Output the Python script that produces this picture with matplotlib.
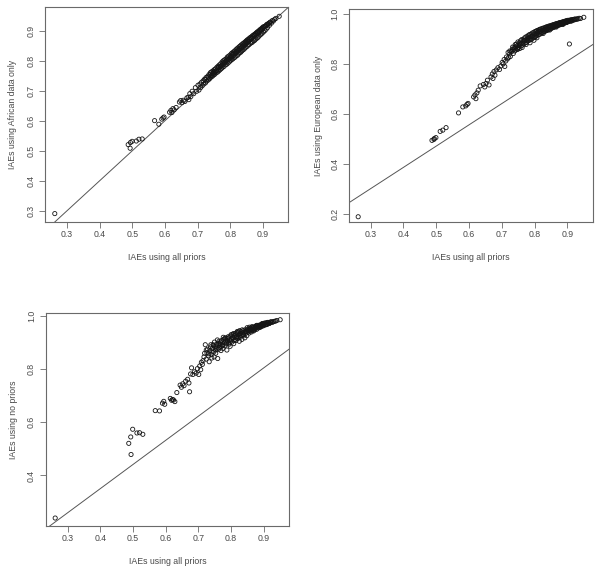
import matplotlib
matplotlib.use("Agg")
import matplotlib.pyplot as plt

# IAEs using all priors (x, shared by all panels)
iae_all = [0.262, 0.487, 0.493, 0.494, 0.499, 0.512, 0.520, 0.530, 0.568, 0.581,
           0.590, 0.594, 0.597, 0.614, 0.618, 0.621, 0.624, 0.628, 0.634, 0.644,
           0.648, 0.652, 0.656, 0.661, 0.667, 0.671, 0.673, 0.676, 0.679, 0.683,
           0.688, 0.693, 0.697, 0.701, 0.704, 0.707, 0.709, 0.712, 0.714, 0.717,
           0.719, 0.721, 0.724, 0.726, 0.728, 0.731, 0.733, 0.735, 0.737, 0.739,
           0.741, 0.743, 0.745, 0.747, 0.749, 0.751, 0.753, 0.755, 0.757, 0.759,
           0.761, 0.763, 0.765, 0.767, 0.769, 0.771, 0.773, 0.775, 0.777, 0.779,
           0.781, 0.783, 0.785, 0.787, 0.789, 0.791, 0.793, 0.795, 0.797, 0.799,
           0.801, 0.803, 0.805, 0.806, 0.808, 0.810, 0.812, 0.813, 0.815, 0.817,
           0.818, 0.820, 0.822, 0.823, 0.825, 0.827, 0.828, 0.830, 0.832, 0.833,
           0.835, 0.837, 0.838, 0.840, 0.842, 0.843, 0.845, 0.847, 0.848, 0.850,
           0.852, 0.853, 0.855, 0.857, 0.858, 0.860, 0.862, 0.863, 0.865, 0.867,
           0.868, 0.870, 0.872, 0.873, 0.875, 0.877, 0.878, 0.880, 0.882, 0.883,
           0.885, 0.887, 0.888, 0.890, 0.892, 0.893, 0.895, 0.897, 0.898, 0.900,
           0.902, 0.904, 0.906, 0.908, 0.910, 0.912, 0.914, 0.917, 0.920, 0.923,
           0.926, 0.929, 0.932, 0.936, 0.940, 0.950,
           0.746, 0.752, 0.758, 0.764, 0.770, 0.776, 0.782, 0.788, 0.794, 0.800,
           0.804, 0.809, 0.814, 0.819, 0.824, 0.829, 0.834, 0.839, 0.844, 0.849,
           0.854, 0.859, 0.864, 0.869, 0.874, 0.879, 0.884, 0.889, 0.894, 0.899,
           0.903, 0.907, 0.911, 0.916, 0.921, 0.724, 0.732, 0.738, 0.742, 0.748,
           0.754, 0.762, 0.768, 0.774, 0.780, 0.786, 0.792, 0.798, 0.807, 0.816,
           0.826, 0.836, 0.846, 0.856, 0.866, 0.876, 0.886, 0.896]

# IAEs using African data only
iae_african = [0.290, 0.520, 0.508, 0.527, 0.531, 0.532, 0.538, 0.539, 0.600, 0.588,
               0.605, 0.609, 0.612, 0.628, 0.634, 0.627, 0.640, 0.636, 0.644, 0.662,
               0.667, 0.660, 0.668, 0.664, 0.676, 0.678, 0.670, 0.690, 0.680, 0.698,
               0.690, 0.710, 0.698, 0.718, 0.702, 0.722, 0.710, 0.728, 0.716, 0.733,
               0.722, 0.738, 0.726, 0.744, 0.732, 0.748, 0.736, 0.754, 0.740, 0.760,
               0.745, 0.763, 0.748, 0.766, 0.752, 0.770, 0.755, 0.773, 0.760, 0.778,
               0.762, 0.782, 0.766, 0.786, 0.770, 0.790, 0.774, 0.796, 0.778, 0.800,
               0.781, 0.803, 0.786, 0.806, 0.788, 0.812, 0.792, 0.815, 0.796, 0.818,
               0.800, 0.823, 0.804, 0.826, 0.806, 0.829, 0.810, 0.832, 0.812, 0.836,
               0.816, 0.839, 0.818, 0.842, 0.822, 0.846, 0.826, 0.848, 0.828, 0.852,
               0.832, 0.855, 0.835, 0.858, 0.838, 0.860, 0.842, 0.864, 0.845, 0.867,
               0.848, 0.870, 0.852, 0.873, 0.854, 0.876, 0.858, 0.878, 0.860, 0.882,
               0.862, 0.884, 0.866, 0.887, 0.868, 0.890, 0.872, 0.893, 0.875, 0.896,
               0.878, 0.899, 0.882, 0.902, 0.886, 0.905, 0.889, 0.908, 0.892, 0.912,
               0.896, 0.914, 0.900, 0.916, 0.905, 0.921, 0.910, 0.924, 0.918, 0.929,
               0.925, 0.934, 0.932, 0.938, 0.941, 0.948,
               0.757, 0.764, 0.768, 0.778, 0.780, 0.789, 0.793, 0.800, 0.804, 0.812,
               0.814, 0.822, 0.824, 0.831, 0.834, 0.841, 0.844, 0.850, 0.854, 0.860,
               0.864, 0.870, 0.873, 0.879, 0.883, 0.889, 0.892, 0.898, 0.902, 0.908,
               0.911, 0.914, 0.918, 0.922, 0.927, 0.738, 0.744, 0.752, 0.750, 0.762,
               0.762, 0.776, 0.781, 0.784, 0.794, 0.798, 0.806, 0.808, 0.820, 0.826,
               0.838, 0.846, 0.857, 0.866, 0.876, 0.885, 0.894, 0.904]

# IAEs using European data only
iae_european = [0.188, 0.494, 0.498, 0.501, 0.505, 0.530, 0.535, 0.545, 0.604, 0.628,
                0.632, 0.638, 0.642, 0.668, 0.676, 0.661, 0.684, 0.695, 0.712, 0.718,
                0.708, 0.722, 0.735, 0.716, 0.748, 0.760, 0.742, 0.770, 0.755, 0.776,
                0.785, 0.778, 0.792, 0.806, 0.800, 0.818, 0.790, 0.812, 0.828, 0.820,
                0.846, 0.826, 0.852, 0.830, 0.850, 0.851, 0.868, 0.842, 0.866, 0.852,
                0.878, 0.856, 0.880, 0.862, 0.888, 0.866, 0.884, 0.862, 0.893, 0.872,
                0.898, 0.876, 0.896, 0.880, 0.904, 0.884, 0.908, 0.886, 0.910, 0.892,
                0.915, 0.894, 0.918, 0.898, 0.920, 0.900, 0.924, 0.904, 0.926, 0.906,
                0.930, 0.910, 0.932, 0.914, 0.934, 0.916, 0.936, 0.918, 0.938, 0.920,
                0.940, 0.924, 0.941, 0.926, 0.943, 0.928, 0.944, 0.930, 0.946, 0.932,
                0.948, 0.934, 0.949, 0.936, 0.951, 0.938, 0.952, 0.940, 0.953, 0.942,
                0.955, 0.944, 0.956, 0.946, 0.958, 0.948, 0.959, 0.950, 0.961, 0.952,
                0.962, 0.954, 0.963, 0.955, 0.965, 0.957, 0.966, 0.959, 0.967, 0.960,
                0.968, 0.962, 0.970, 0.963, 0.971, 0.965, 0.972, 0.966, 0.974, 0.968,
                0.975, 0.970, 0.880, 0.976, 0.971, 0.977, 0.973, 0.978, 0.976, 0.980,
                0.978, 0.981, 0.980, 0.983, 0.982, 0.987,
                0.872, 0.874, 0.882, 0.888, 0.895, 0.898, 0.905, 0.910, 0.913, 0.920,
                0.922, 0.926, 0.929, 0.932, 0.935, 0.938, 0.941, 0.943, 0.946, 0.948,
                0.950, 0.953, 0.955, 0.958, 0.960, 0.962, 0.964, 0.966, 0.968, 0.970,
                0.972, 0.974, 0.975, 0.977, 0.979, 0.840, 0.858, 0.860, 0.868, 0.858,
                0.878, 0.866, 0.892, 0.878, 0.902, 0.885, 0.910, 0.895, 0.905, 0.930,
                0.922, 0.938, 0.936, 0.952, 0.948, 0.958, 0.958, 0.966]

# IAEs using no priors
iae_none = [0.240, 0.521, 0.545, 0.479, 0.574, 0.560, 0.561, 0.555, 0.644, 0.643,
            0.672, 0.679, 0.668, 0.690, 0.683, 0.686, 0.684, 0.678, 0.712, 0.740,
            0.732, 0.745, 0.738, 0.755, 0.762, 0.748, 0.715, 0.782, 0.805, 0.780,
            0.790, 0.785, 0.802, 0.780, 0.812, 0.798, 0.826, 0.818, 0.832, 0.846,
            0.860, 0.892, 0.838, 0.862, 0.875, 0.850, 0.828, 0.870, 0.884, 0.855,
            0.842, 0.878, 0.892, 0.865, 0.902, 0.885, 0.860, 0.893, 0.875, 0.840,
            0.898, 0.905, 0.882, 0.895, 0.870, 0.908, 0.889, 0.878, 0.912, 0.900,
            0.888, 0.918, 0.895, 0.872, 0.905, 0.922, 0.898, 0.910, 0.886, 0.925,
            0.912, 0.902, 0.930, 0.918, 0.896, 0.926, 0.912, 0.935, 0.908, 0.922,
            0.938, 0.915, 0.928, 0.940, 0.905, 0.932, 0.920, 0.942, 0.926, 0.912,
            0.936, 0.945, 0.930, 0.940, 0.918, 0.948, 0.935, 0.944, 0.926, 0.950,
            0.940, 0.946, 0.936, 0.952, 0.944, 0.955, 0.940, 0.950, 0.956, 0.946,
            0.958, 0.952, 0.948, 0.960, 0.954, 0.962, 0.950, 0.958, 0.964, 0.955,
            0.962, 0.966, 0.958, 0.964, 0.968, 0.961, 0.966, 0.970, 0.963, 0.968,
            0.972, 0.966, 0.970, 0.974, 0.968, 0.973, 0.976, 0.972, 0.976, 0.978,
            0.976, 0.979, 0.980, 0.981, 0.983, 0.986,
            0.888, 0.872, 0.910, 0.892, 0.885, 0.920, 0.906, 0.915, 0.894, 0.930,
            0.920, 0.908, 0.930, 0.942, 0.922, 0.934, 0.948, 0.928, 0.942, 0.956,
            0.944, 0.950, 0.960, 0.944, 0.957, 0.965, 0.960, 0.958, 0.970, 0.966,
            0.974, 0.968, 0.976, 0.972, 0.978, 0.872, 0.858, 0.892, 0.865, 0.846,
            0.880, 0.875, 0.902, 0.890, 0.915, 0.898, 0.918, 0.905, 0.934, 0.918,
            0.945, 0.930, 0.940, 0.958, 0.950, 0.963, 0.962, 0.972]

x_ticks = [0.3, 0.4, 0.5, 0.6, 0.7, 0.8, 0.9]
x_label = "IAEs using all priors"

panels = [
    dict(y=iae_african, ylabel="IAEs using African data only",
         yticks=[0.3, 0.4, 0.5, 0.6, 0.7, 0.8, 0.9],
         line=(0.0, 1.0), xlim=(0.232, 0.977), ylim=(0.262, 0.979),
         rect_px=(45, 7, 288, 222), ylab_x=-0.133),
    dict(y=iae_european, ylabel="IAEs using European data only",
         yticks=[0.2, 0.4, 0.6, 0.8, 1.0],
         line=(0.045, 0.852), xlim=(0.234, 0.978), ylim=(0.167, 1.019),
         rect_px=(349, 9.3, 593, 222), ylab_x=-0.127),
    dict(y=iae_none, ylabel="IAEs using no priors",
         yticks=[0.4, 0.6, 0.8, 1.0],
         line=(-0.013, 0.909), xlim=(0.233, 0.977), ylim=(0.21, 1.0125),
         rect_px=(45.7, 312.7, 289, 526), ylab_x=-0.134),
]

W, H = 600, 573
fig = plt.figure(figsize=(W / 100, H / 100), dpi=100)
fig.patch.set_facecolor("white")

txt_color = "#4a4a4a"
box_color = "#6a6a6a"
font = "Liberation Sans"
fs = 6.3

for p in panels:
    l, t, r, b = p["rect_px"]
    ax = fig.add_axes([l / W, 1 - b / H, (r - l) / W, (b - t) / H])
    ax.scatter(iae_all, p["y"], s=9, facecolors="none", edgecolors="#151515",
               linewidths=0.6, zorder=3)
    a0, a1 = p["line"]
    ax.axline((0, a0), slope=a1, color="#555555", linewidth=0.7, zorder=2)
    ax.set_xlim(*p["xlim"])
    ax.set_ylim(*p["ylim"])
    ax.set_xticks(x_ticks)
    ax.set_xticklabels([f"{v:.1f}" for v in x_ticks], fontfamily=font,
                       fontsize=fs, color=txt_color)
    ax.set_yticks(p["yticks"])
    ax.set_yticklabels([f"{v:.1f}" for v in p["yticks"]], fontfamily=font,
                       fontsize=fs, color=txt_color, rotation=90, va="center")
    ax.tick_params(axis="both", direction="out", length=4, width=0.6,
                   color=box_color)
    ax.tick_params(axis="x", pad=1.5)
    ax.tick_params(axis="y", pad=3)
    for s in ax.spines.values():
        s.set_color(box_color)
        s.set_linewidth(0.8)
    ax.set_xlabel(x_label, fontfamily=font, fontsize=fs, color=txt_color)
    ax.xaxis.set_label_coords(0.5, -0.166)
    ax.xaxis.label.set_va("center")
    ax.set_ylabel(p["ylabel"], fontfamily=font, fontsize=fs, color=txt_color)
    ax.yaxis.set_label_coords(p["ylab_x"], 0.5)
    ax.yaxis.label.set_va("center")

fig.savefig("out.png", dpi=100, facecolor="white")
